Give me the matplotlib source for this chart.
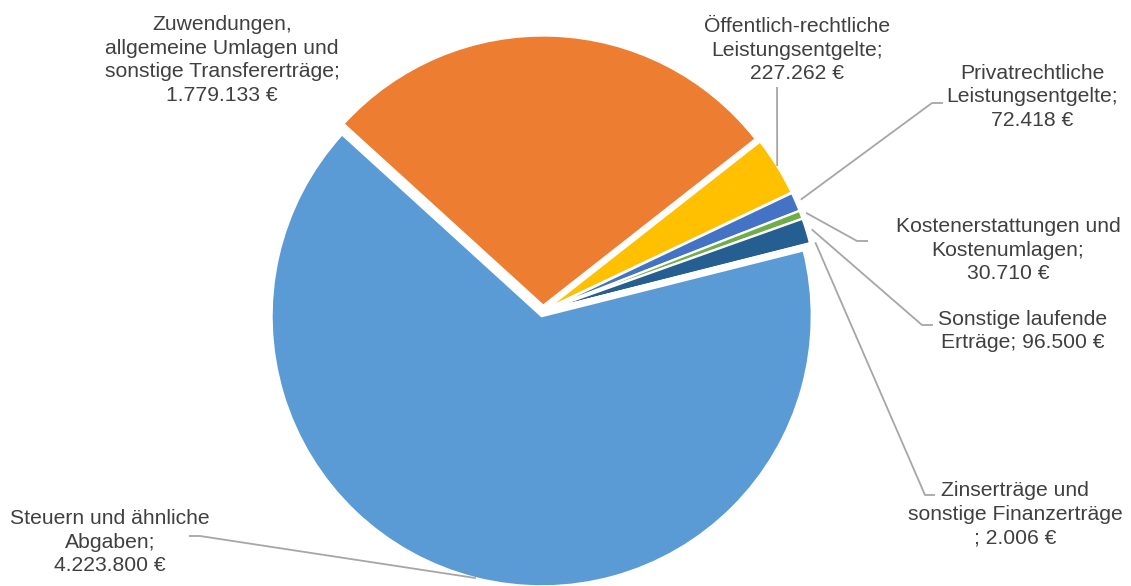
import numpy as np
import matplotlib
matplotlib.use("Agg")
import matplotlib.pyplot as plt

plt.rcParams["font.family"] = ["Liberation Sans", "DejaVu Sans"]

categories = [
    "Steuern und ähnliche\nAbgaben;\n4.223.800 €",
    "Zuwendungen,\nallgemeine Umlagen und\nsonstige Transfererträge;\n1.779.133 €",
    "Öffentlich-rechtliche\nLeistungsentgelte;\n227.262 €",
    "Privatrechtliche\nLeistungsentgelte;\n72.418 €",
    "Kostenerstattungen und\nKostenumlagen;\n30.710 €",
    "Sonstige laufende\nErträge; 96.500 €",
    "Zinserträge und\nsonstige Finanzerträge\n; 2.006 €",
]
values = [4223800, 1779133, 227262, 72418, 30710, 96500, 2006]
colors = ["#5B9BD5", "#ED7D31", "#FFC000", "#4472C4", "#70AD47", "#255E91", "#9E480E"]

# layout (pixels, top-left origin)
W, H = 1131, 586
CX, CY, R = 543, 311, 270
EXPLODE = 0.02
START = 14.1

# label centre (x, y), leader start radius and leader elbow / end points
label_pos = [(110, 542), (222, 60), (797, 50), (1032, 97), (1008, 250), (1023, 331), (1015, 514)]
leader_r = [1.0, None, 1.0, 1.02, 1.02, 1.02, 1.02]
leaders = [
    [(200, 536), (189, 536)],
    None,
    [(777, 87)],
    [(932, 103), (943, 103)],
    [(857, 241), (868, 241)],
    [(922, 325), (933, 325)],
    [(925, 495), (935, 495)],
]


def to_data(px, py):
    return (px - CX) / R, (CY - py) / R


fig = plt.figure(figsize=(W / 100, H / 100), dpi=100)
ax = fig.add_axes([0, 0, 1, 1])

wedges, _ = ax.pie(values, colors=colors, startangle=START, counterclock=False,
                   explode=[EXPLODE] * len(values), radius=1.0,
                   wedgeprops=dict(edgecolor="white", linewidth=1.5))

ax.set_xlim(-CX / R, (W - CX) / R)
ax.set_ylim(-(H - CY) / R, CY / R)
ax.set_aspect("auto")
ax.axis("off")

for w, lab, pos, rr, lead in zip(wedges, categories, label_pos, leader_r, leaders):
    if lead is not None:
        mid = np.deg2rad((w.theta1 + w.theta2) / 2)
        r0 = rr + EXPLODE
        pts = [(r0 * np.cos(mid), r0 * np.sin(mid))] + [to_data(*p) for p in lead]
        xs, ys = zip(*pts)
        ax.plot(xs, ys, color="#A6A6A6", lw=1.3, solid_capstyle="butt")
    tx, ty = to_data(*pos)
    ax.text(tx, ty, lab, ha="center", va="center", fontsize=15.2,
            color="#404040", linespacing=1.3, multialignment="center")

plt.savefig("out.png", dpi=100)
plt.close()
